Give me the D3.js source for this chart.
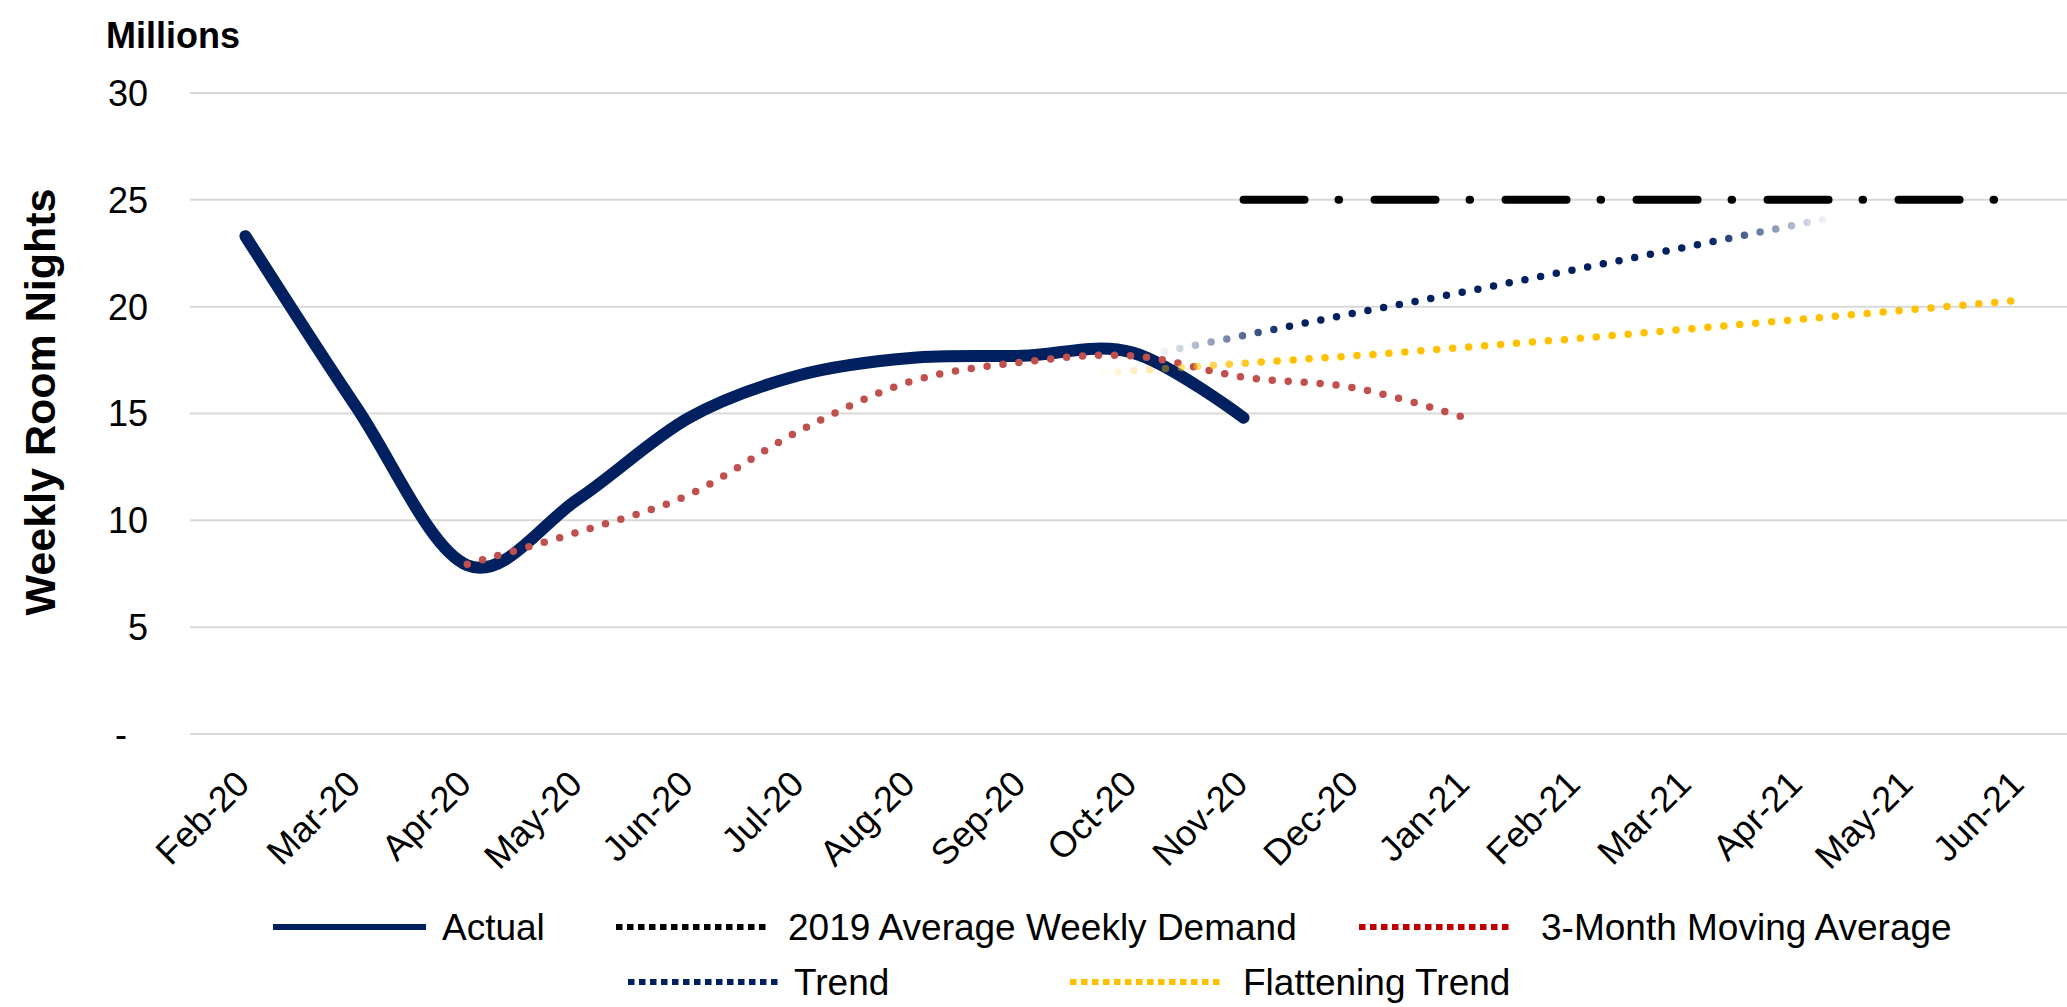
<!DOCTYPE html>
<html>
<head>
<meta charset="utf-8">
<title>Weekly Room Nights</title>
<script src="https://d3js.org/d3.v7.min.js"></script>
<style>
  body { margin: 0; background: #fff; }
  svg { display: block; font-family: "Liberation Sans", Arial, sans-serif; }
</style>
</head>
<body>
<div id="chart"></div>
<script>
// months on the x axis
var months = ["Feb-20", "Mar-20", "Apr-20", "May-20", "Jun-20", "Jul-20", "Aug-20", "Sep-20",
  "Oct-20", "Nov-20", "Dec-20", "Jan-21", "Feb-21", "Mar-21", "Apr-21", "May-21", "Jun-21"];
var yTicks = [0, 5, 10, 15, 20, 25, 30];

// series values (millions), each one starts at the month named next to it
var actual = [23.3, 15.3, 7.9, 11.0, 14.8, 16.8, 17.6, 17.7, 17.85, 14.8];     // Feb-20
var demand2019 = [25, 25, 25, 25, 25, 25, 25, 25];                             // Nov-20
var movingAvg = [7.95, 9.45, 11.2, 14.2, 16.5, 17.4, 17.7, 16.7, 16.2, 14.8];  // Apr-20
var trend = [17.6, 18.65, 19.7, 20.7, 21.75, 22.8, 23.85, 24.9];               // Oct-20
var flatTrend = [16.65, 17.0, 17.35, 17.7, 18.1, 18.5, 18.95, 19.4, 19.85, 20.3]; // Sep-20

var W = 2067, H = 1007;

var svg = d3.select("#chart").append("svg")
  .attr("width", W)
  .attr("height", H);

svg.append("rect").attr("width", W).attr("height", H).attr("fill", "#fff");

var x = d3.scaleBand()
  .domain(months)
  .range([190, 190 + 17 * 110.9]);
var y = d3.scaleLinear()
  .domain([0, 30])
  .range([734, 93]);

function cx(m) { return x(m) + x.bandwidth() / 2; }

// gridlines
svg.append("g")
  .selectAll("line")
  .data(yTicks)
  .enter().append("line")
  .attr("x1", 190).attr("x2", W)
  .attr("y1", function (d) { return y(d); })
  .attr("y2", function (d) { return y(d); })
  .attr("stroke", "#d9d9d9")
  .attr("stroke-width", 2);

// y tick labels
svg.append("g")
  .selectAll("text")
  .data(yTicks)
  .enter().append("text")
  .attr("x", function (d) { return d === 0 ? 127 : 148; })
  .attr("y", function (d) { return y(d); })
  .attr("dy", "0.36em")
  .attr("text-anchor", "end")
  .attr("font-size", 36)
  .text(function (d) { return d === 0 ? "-" : d; });

// x tick labels
svg.append("g")
  .selectAll("text")
  .data(months)
  .enter().append("text")
  .attr("transform", function (d) { return "translate(" + (cx(d) + 6) + ",786) rotate(-45)"; })
  .attr("text-anchor", "end")
  .attr("font-size", 36)
  .text(function (d) { return d; });

svg.append("text")
  .attr("x", 106).attr("y", 48)
  .attr("font-size", 36)
  .attr("font-weight", "bold")
  .text("Millions");

svg.append("text")
  .attr("transform", "translate(55,402) rotate(-90)")
  .attr("text-anchor", "middle")
  .attr("font-size", 43)
  .attr("font-weight", "bold")
  .text("Weekly Room Nights");

// fading gradients for the trend lines
var defs = svg.append("defs");
function fade(id, color, first, last, stops) {
  var g = defs.append("linearGradient")
    .attr("id", id)
    .attr("gradientUnits", "userSpaceOnUse")
    .attr("x1", cx(first)).attr("x2", cx(last))
    .attr("y1", 0).attr("y2", 0);
  stops.forEach(function (s) {
    g.append("stop").attr("offset", s[0]).attr("stop-color", color).attr("stop-opacity", s[1]);
  });
}

function points(values, startMonth) {
  var s = months.indexOf(startMonth);
  return values.map(function (v, i) { return { m: months[s + i], v: v }; });
}

var smooth = d3.line()
  .x(function (d) { return cx(d.m); })
  .y(function (d) { return y(d.v); })
  .curve(d3.curveCardinal.tension(0));
var straight = d3.line()
  .x(function (d) { return cx(d.m); })
  .y(function (d) { return y(d.v); });

// Actual
svg.append("path")
  .datum(points(actual, "Feb-20"))
  .attr("d", smooth)
  .attr("fill", "none")
  .attr("stroke", "#002060")
  .attr("stroke-width", 12)
  .attr("stroke-linecap", "round")
  .attr("stroke-linejoin", "round");

// 2019 average weekly demand
svg.append("path")
  .datum(points(demand2019, "Nov-20"))
  .attr("d", straight)
  .attr("fill", "none")
  .attr("stroke", "#000")
  .attr("stroke-width", 8)
  .attr("stroke-linecap", "round")
  .attr("stroke-dasharray", "61 34 0.5 35.5");

// 3-month moving average
svg.append("path")
  .datum(points(movingAvg, "Apr-20"))
  .attr("d", smooth)
  .attr("fill", "none")
  .attr("stroke", "#c0504d")
  .attr("stroke-width", 7.5)
  .attr("stroke-linecap", "round")
  .attr("stroke-dasharray", "0 16");

// Trend
fade("trendFade", "#002060", "Oct-20", "May-21", [[0.03, 0], [0.2, 1], [0.74, 1], [0.9, 0]]);
svg.append("path")
  .datum(points(trend, "Oct-20"))
  .attr("d", straight)
  .attr("fill", "none")
  .attr("stroke", "url(#trendFade)")
  .attr("stroke-width", 7.5)
  .attr("stroke-linecap", "round")
  .attr("stroke-dasharray", "0 16");

// Flattening trend
fade("flatFade", "#ffc000", "Sep-20", "Jun-21", [[0.07, 0], [0.25, 1], [1, 1]]);
svg.append("path")
  .datum(points(flatTrend, "Sep-20"))
  .attr("d", straight)
  .attr("fill", "none")
  .attr("stroke", "url(#flatFade)")
  .attr("stroke-width", 7.5)
  .attr("stroke-linecap", "round")
  .attr("stroke-dasharray", "0 16");

// legend
var legendNames = ["Actual", "2019 Average Weekly Demand", "3-Month Moving Average", "Trend", "Flattening Trend"];
var legendColors = ["#002060", "#000000", "#c00000", "#002060", "#ffc000"];
var legendLayout = [
  { x: 273, y: 927, tx: 442, solid: true },
  { x: 616, y: 927, tx: 788 },
  { x: 1359, y: 927, tx: 1541 },
  { x: 628, y: 982, tx: 794 },
  { x: 1070, y: 982, tx: 1243 }
];

var items = svg.append("g")
  .selectAll("g")
  .data(legendNames)
  .enter().append("g");

items.append("line")
  .attr("x1", function (d, i) { return legendLayout[i].x; })
  .attr("x2", function (d, i) { return legendLayout[i].x + 153; })
  .attr("y1", function (d, i) { return legendLayout[i].y; })
  .attr("y2", function (d, i) { return legendLayout[i].y; })
  .attr("stroke", function (d, i) { return legendColors[i]; })
  .attr("stroke-width", 6)
  .attr("stroke-dasharray", function (d, i) { return legendLayout[i].solid ? null : "6.5 4.5"; });

items.append("text")
  .attr("x", function (d, i) { return legendLayout[i].tx; })
  .attr("y", function (d, i) { return legendLayout[i].y + 13; })
  .attr("font-size", 37)
  .text(function (d) { return d; });
</script>
</body>
</html>
